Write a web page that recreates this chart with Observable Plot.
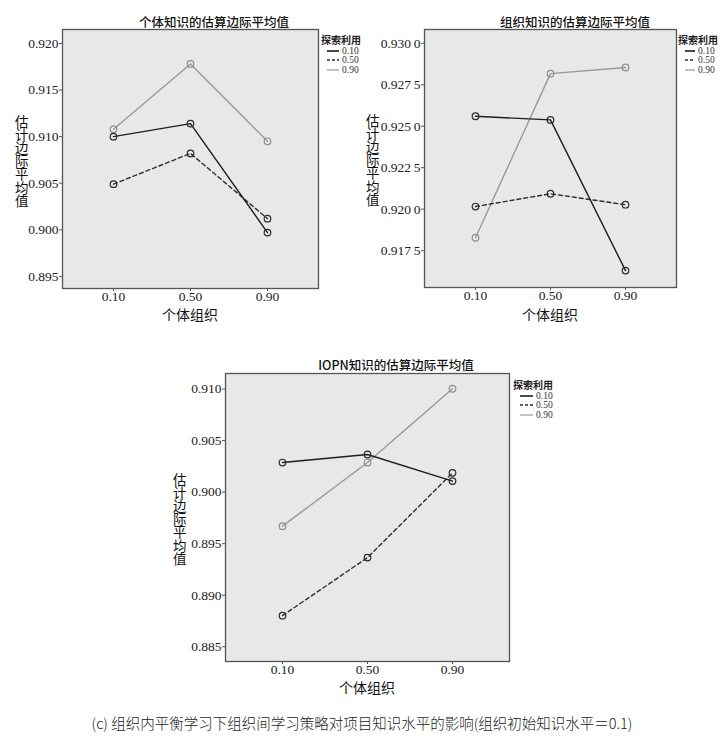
<!DOCTYPE html>
<html><head><meta charset="utf-8">
<script src="https://cdn.jsdelivr.net/npm/d3@7"></script>
<script src="https://cdn.jsdelivr.net/npm/@observablehq/plot@0.6"></script>
<style>
body{margin:0;background:#fff;}
#wrap{position:relative;width:725px;height:748px;overflow:hidden;}
.abs{position:absolute;white-space:nowrap;}
.cjk{font-family:"Noto Sans CJK SC",sans-serif;color:#111;}
.title{font-size:12.5px;font-weight:500;transform:translateX(-50%);line-height:1.1;}
.xlab{font-size:14px;transform:translateX(-50%);line-height:1;}
.ylab{font-size:13.5px;writing-mode:vertical-rl;text-orientation:upright;line-height:1;transform:translate(-50%,-50%);letter-spacing:-0.3px;}
.leg{font-size:9.5px;}
.leg .t{font-family:"Noto Sans CJK SC",sans-serif;font-weight:700;font-size:10px;color:#222;line-height:1.3;}
.leg .r{font-family:"Liberation Serif",serif;color:#333;display:flex;align-items:center;height:9.5px;}
.cap{font-family:"Noto Sans CJK SC",sans-serif;font-size:14.5px;font-weight:300;color:#222;transform:translateX(-50%);line-height:1;}
</style></head>
<body><div id="wrap"></div>
<script>
// ---- data ----
const xCats = ["0.10", "0.50", "0.90"];           // 个体组织
const seriesNames = ["0.10", "0.50", "0.90"];     // 探索利用
// Panel 1: 个体知识
const indiv_s010 = [0.9100, 0.9114, 0.8997];
const indiv_s050 = [0.9049, 0.9082, 0.9012];
const indiv_s090 = [0.9108, 0.9178, 0.9095];
const indivTicks = [0.895, 0.900, 0.905, 0.910, 0.915, 0.920];
// Panel 2: 组织知识
const org_s010 = [0.92560, 0.92538, 0.91630];
const org_s050 = [0.92016, 0.92093, 0.92027];
const org_s090 = [0.91828, 0.92817, 0.92854];
const orgTicks = [0.9175, 0.9200, 0.9225, 0.9250, 0.9275, 0.9300];
// Panel 3: IOPN知识
const iopn_s010 = [0.90287, 0.90365, 0.90107];
const iopn_s050 = [0.88802, 0.89365, 0.90187];
const iopn_s090 = [0.89670, 0.90287, 0.91003];
const iopnTicks = [0.885, 0.890, 0.895, 0.900, 0.905, 0.910];

const titles = ["个体知识的估算边际平均值", "组织知识的估算边际平均值", "IOPN知识的估算边际平均值"];
const xTitle = "个体组织";
const yTitle = "估计边际平均值";
const legendTitle = "探索利用";
const caption = "(c) 组织内平衡学习下组织间学习策略对项目知识水平的影响(组织初始知识水平＝0.1)";

const styles = [
  {stroke: "#1e1e1e", dash: null, dot: "#2a2a2a"},
  {stroke: "#2e2e2e", dash: "4,3", dot: "#2a2a2a"},
  {stroke: "#999999", dash: null, dot: "#8f8f8f"}
];

function toRows(arrs) {
  const rows = [];
  arrs.forEach((vals, si) => vals.forEach((v, i) => rows.push({x: xCats[i], y: v, s: seriesNames[si], si})));
  return rows;
}

const wrap = document.getElementById("wrap");
function add(html, cls, left, top) {
  const d = document.createElement("div");
  d.className = "abs " + cls;
  d.style.left = left + "px"; d.style.top = top + "px";
  d.innerHTML = html;
  wrap.appendChild(d);
  return d;
}

function panel(cfg) {
  const rows = toRows(cfg.series);
  const marks = [
    Plot.frame({fill: "#e8e8e8", stroke: "none"}),
  ];
  [2, 1, 0].forEach(si => {
    const st = styles[si];
    const sub = rows.filter(r => r.si === si);
    marks.push(Plot.line(sub, {x: "x", y: "y", stroke: st.stroke, strokeWidth: 1.4, strokeDasharray: st.dash}));
    marks.push(Plot.dot(sub, {x: "x", y: "y", r: 3.3, stroke: st.dot, strokeWidth: 1.2, fill: "none"}));
  });
  marks.push(Plot.frame({stroke: "#555", strokeWidth: 1.3}));
  marks.push(Plot.axisY({ticks: cfg.ticks, tickFormat: cfg.fmt, tickSize: 3, tickPadding: 1, label: null,
    fontSize: 13.5, fontFamily: "Liberation Serif", stroke: "#555"}));
  marks.push(Plot.axisX({tickSize: 3, tickPadding: 0, label: null, fontSize: 13.5, fontFamily: "Liberation Serif", stroke: "#555"}));
  const svg = Plot.plot({
    width: cfg.w, height: cfg.h,
    marginLeft: cfg.ml, marginRight: cfg.mr, marginTop: cfg.mt, marginBottom: cfg.mb,
    style: {background: "transparent", color: "#222", overflow: "visible", fontFamily: "'Liberation Serif', serif"},
    x: {type: "point", domain: xCats, padding: 0.66},
    y: {domain: cfg.dom},
    marks
  });
  svg.style.position = "absolute";
  svg.style.left = cfg.left + "px"; svg.style.top = cfg.top + "px";
  wrap.appendChild(svg);

  const fx0 = cfg.left + cfg.ml, fx1 = cfg.left + cfg.w - cfg.mr;
  const fy0 = cfg.top + cfg.mt, fy1 = cfg.top + cfg.h - cfg.mb;
  add(cfg.title, "cjk title", cfg.titleX, cfg.titleY);
  add(xTitle, "cjk xlab", (fx0 + fx1) / 2, cfg.xlabY);
  add(yTitle, "cjk ylab", cfg.ylabX, (fy0 + fy1) / 2 + 2);

  // legend
  let lg = `<div class="t">${legendTitle}</div>`;
  seriesNames.forEach((n, si) => {
    const st = styles[si];
    lg += `<div class="r"><svg width="${cfg.legLine + 2}" height="6" style="margin-left:${cfg.legIndent}px;margin-right:1px">` +
      `<line x1="0" x2="${cfg.legLine}" y1="3" y2="3" stroke="${st.stroke}" stroke-width="${si === 2 ? 1.2 : 1.6}" ${st.dash ? 'stroke-dasharray="3,2"' : ''}/></svg>${n}</div>`;
  });
  add(lg, "leg", cfg.legX, cfg.legY);
}

const fmt3 = d => d.toFixed(3);
const fmt4 = d => { const s = d.toFixed(4); return s.slice(0, 5) + "\u2009" + s.slice(5); };

panel({series: [indiv_s010, indiv_s050, indiv_s090], ticks: indivTicks, fmt: fmt3, dom: [0.8937, 0.9215],
  left: 0, top: 0, w: 360, h: 320, ml: 62, mr: 42, mt: 29, mb: 32,
  title: titles[0], titleX: 214, titleY: 15, xlabY: 307, ylabX: 21,
  legX: 321, legY: 33, legLine: 12, legIndent: 6});

panel({series: [org_s010, org_s050, org_s090], ticks: orgTicks, fmt: fmt4, dom: [0.91528, 0.93083],
  left: 360, top: 0, w: 365, h: 320, ml: 64, mr: 49, mt: 29, mb: 33,
  title: titles[1], titleX: 575, titleY: 15, xlabY: 307, ylabX: 372,
  legX: 678, legY: 33, legLine: 10, legIndent: 7});

panel({series: [iopn_s010, iopn_s050, iopn_s090], ticks: iopnTicks, fmt: fmt3, dom: [0.88357, 0.91151],
  left: 160, top: 320, w: 420, h: 380, ml: 65, mr: 71, mt: 53, mb: 39,
  title: titles[2], titleX: 396, titleY: 358, xlabY: 680, ylabX: 179,
  legX: 513, legY: 378, legLine: 13, legIndent: 7});

add(caption, "cap", 362, 716);
</script>
</body></html>
